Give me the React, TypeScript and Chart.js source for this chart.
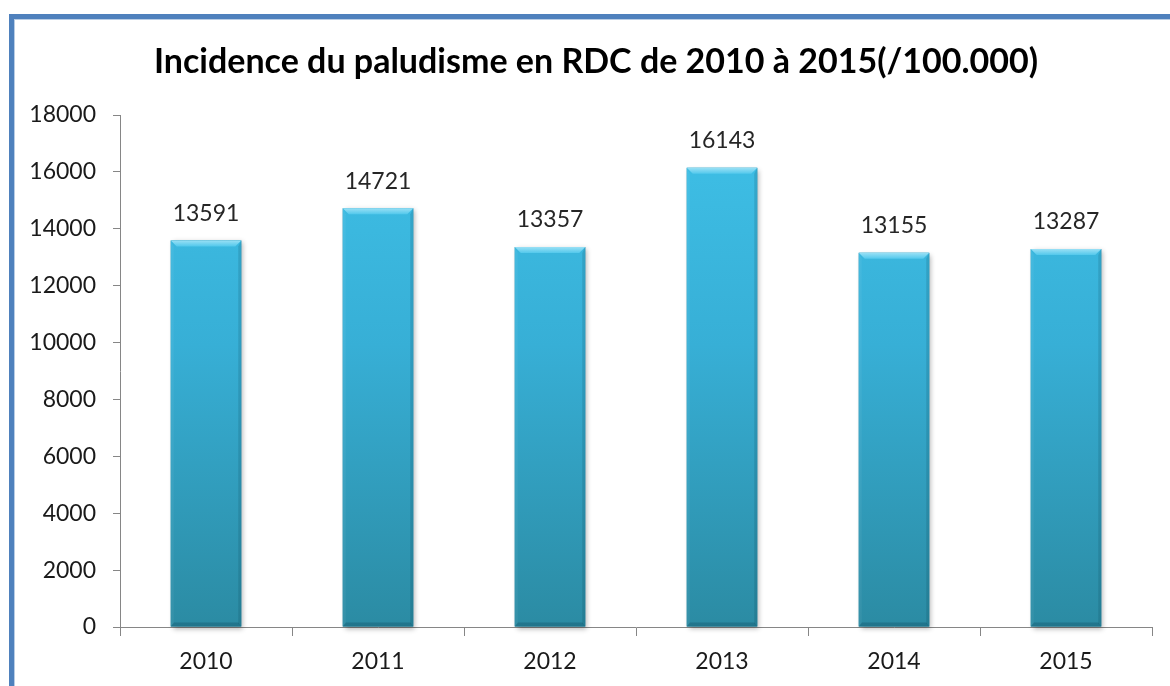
import React, { useEffect, useRef } from "react";
import { Chart, registerables } from "chart.js";

Chart.register(...registerables);

const years = ["2010", "2011", "2012", "2013", "2014", "2015"];
const incidence = [13591, 14721, 13357, 16143, 13155, 13287];
const yTicks = [0, 2000, 4000, 6000, 8000, 10000, 12000, 14000, 16000, 18000];
const titleText = "Incidence du paludisme en RDC de 2010 à 2015(/100.000)";

const FONT = "Lato, 'Open Sans', sans-serif";

const framePlugin = {
  id: "frame",
  beforeDraw(chart: any) {
    const ctx = chart.ctx;
    ctx.save();
    ctx.fillStyle = "#fff";
    ctx.fillRect(0, 0, chart.width, chart.height);
    ctx.fillStyle = "#4f81bd";
    ctx.fillRect(9, 14, chart.width, 5);
    ctx.fillRect(9, 14, 5, chart.height);
    ctx.fillStyle = "#b9cde5";
    ctx.fillRect(14, 19, chart.width, 1);
    ctx.fillRect(14, 19, 1, chart.height);
    ctx.font = `bold 34px ${FONT}`;
    ctx.fillStyle = "#000";
    ctx.textAlign = "center";
    ctx.textBaseline = "middle";
    ctx.fillText(titleText, 596, 62);
    ctx.restore();
  },
};

const barDecorPlugin = {
  id: "barDecor",
  beforeDatasetsDraw(chart: any) {
    const ctx = chart.ctx;
    const meta = chart.getDatasetMeta(0);
    ctx.save();
    meta.data.forEach((bar: any) => {
      const w = bar.width;
      ctx.shadowColor = "rgba(0,0,0,0.3)";
      ctx.shadowBlur = 5;
      ctx.shadowOffsetX = 2;
      ctx.shadowOffsetY = 2;
      ctx.fillStyle = "#2f8fa8";
      ctx.fillRect(bar.x - w / 2, bar.y, w, bar.base - bar.y);
    });
    ctx.restore();
  },
  afterDatasetsDraw(chart: any) {
    const ctx = chart.ctx;
    const meta = chart.getDatasetMeta(0);
    ctx.save();
    meta.data.forEach((bar: any, i: number) => {
      const w = bar.width;
      const l = bar.x - w / 2;
      const r = bar.x + w / 2;
      const t = bar.y;
      const b = bar.base;
      const s = 6;
      // top bevel
      const gTop = ctx.createLinearGradient(0, t, 0, t + s);
      gTop.addColorStop(0, "#9ae0f5");
      gTop.addColorStop(1, "#52c8ec");
      ctx.fillStyle = gTop;
      ctx.beginPath();
      ctx.moveTo(l, t);
      ctx.lineTo(r, t);
      ctx.lineTo(r - s, t + s);
      ctx.lineTo(l + s, t + s);
      ctx.closePath();
      ctx.fill();
      // left bevel
      ctx.fillStyle = "rgba(255,255,255,0.05)";
      ctx.beginPath();
      ctx.moveTo(l, t);
      ctx.lineTo(l + 3, t + s);
      ctx.lineTo(l + 3, b - 3);
      ctx.lineTo(l, b);
      ctx.closePath();
      ctx.fill();
      // right bevel
      ctx.fillStyle = "rgba(0,40,60,0.14)";
      ctx.beginPath();
      ctx.moveTo(r, t);
      ctx.lineTo(r - 3, t + s);
      ctx.lineTo(r - 3, b - 3);
      ctx.lineTo(r, b);
      ctx.closePath();
      ctx.fill();
      // bottom bevel
      ctx.fillStyle = "rgba(0,40,60,0.22)";
      ctx.beginPath();
      ctx.moveTo(l, b);
      ctx.lineTo(l + 3, b - 4);
      ctx.lineTo(r - 3, b - 4);
      ctx.lineTo(r, b);
      ctx.closePath();
      ctx.fill();
      // value label
      ctx.font = `23px ${FONT}`;
      ctx.fillStyle = "#262626";
      ctx.textAlign = "center";
      ctx.textBaseline = "middle";
      ctx.fillText(String(incidence[i]), bar.x, t - 27);
    });
    ctx.restore();
  },
};

export default function App() {
  const ref = useRef<HTMLCanvasElement>(null);

  useEffect(() => {
    document.body.style.margin = "0";
    const canvas = ref.current!;
    const chart = new Chart(canvas, {
      type: "bar",
      data: {
        labels: years,
        datasets: [
          {
            data: incidence,
            backgroundColor: (c: any) => {
              const area = c.chart.chartArea;
              if (!area) return "#3ab7df";
              const g = c.chart.ctx.createLinearGradient(0, area.top, 0, area.bottom);
              g.addColorStop(0, "#3fc1e8");
              g.addColorStop(0.45, "#37afd6");
              g.addColorStop(1, "#2b8ba3");
              return g;
            },
            borderWidth: 0,
            barPercentage: 0.41,
            categoryPercentage: 1,
          },
        ],
      },
      plugins: [framePlugin, barDecorPlugin],
      options: {
        animation: false,
        responsive: false,
        maintainAspectRatio: false,
        layout: { padding: { left: 0, right: 18, top: 115, bottom: 0 } },
        plugins: {
          legend: { display: false },
          title: { display: false },
          tooltip: { enabled: false },
        },
        scales: {
          x: {
            offset: true,
            grid: {
              offset: true,
              drawOnChartArea: false,
              tickLength: 9,
              color: "#868686",
            },
            border: { color: "#868686", width: 1 },
            ticks: {
              color: "#1a1a1a",
              font: { family: FONT, size: 23 },
              padding: 12,
            },
            afterFit: (s: any) => {
              s.height = 59;
            },
          },
          y: {
            min: 0,
            max: 18000,
            afterBuildTicks: (s: any) => {
              s.ticks = yTicks.map((v) => ({ value: v }));
            },
            grid: {
              drawOnChartArea: false,
              tickLength: 7,
              color: "#868686",
            },
            border: { color: "#868686", width: 1 },
            ticks: {
              color: "#1a1a1a",
              font: { family: FONT, size: 23 },
              padding: 17,
              callback: (v: any) => String(v),
            },
            afterFit: (s: any) => {
              s.width = 120;
            },
          },
        },
      },
    });
    return () => chart.destroy();
  }, []);

  return (
    <div style={{ width: 1170, height: 686, overflow: "hidden" }}>
      <canvas ref={ref} width={1170} height={686} style={{ display: "block" }} />
    </div>
  );
}
